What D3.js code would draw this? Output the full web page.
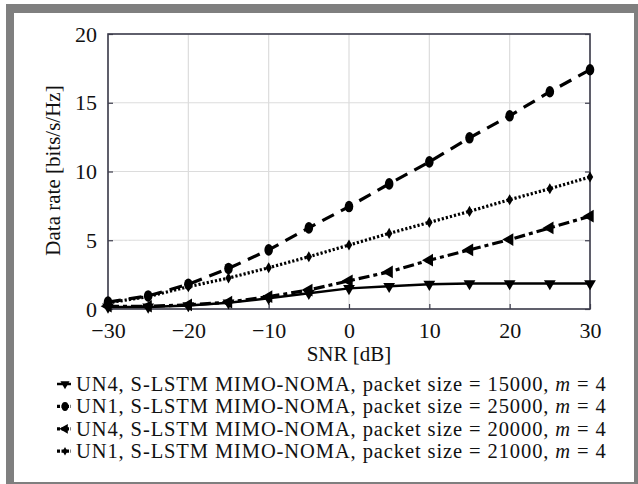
<!DOCTYPE html>
<html>
<head>
<meta charset="utf-8">
<script src="https://cdn.jsdelivr.net/npm/d3@7"></script>
<style>
  html, body { margin: 0; padding: 0; background: #fff; }
  svg { display: block; }
</style>
</head>
<body>
<svg id="chart" width="638" height="484"></svg>
<script>
// SNR sweep (dB) shared by every curve
const snr = [-30, -25, -20, -15, -10, -5, 0, 5, 10, 15, 20, 25, 30];

// Data rate (bits/s/Hz) per configuration
const un4_15000 = [0.15, 0.15, 0.25, 0.45, 0.78, 1.15, 1.5, 1.65, 1.8, 1.85, 1.85, 1.85, 1.85];
const un1_25000 = [0.5, 0.95, 1.8, 2.95, 4.3, 5.9, 7.45, 9.1, 10.7, 12.45, 14.05, 15.8, 17.4];
const un4_20000 = [0.2, 0.2, 0.3, 0.5, 0.9, 1.38, 2.05, 2.7, 3.55, 4.3, 5.05, 5.9, 6.75];
const un1_21000 = [0.45, 0.9, 1.62, 2.25, 3.0, 3.8, 4.65, 5.5, 6.3, 7.1, 7.95, 8.75, 9.6];

const seriesLabels = [
  "UN4, S-LSTM MIMO-NOMA, packet size = 15000,",
  "UN1, S-LSTM MIMO-NOMA, packet size = 25000,",
  "UN4, S-LSTM MIMO-NOMA, packet size = 20000,",
  "UN1, S-LSTM MIMO-NOMA, packet size = 21000,"
];

const xTicks = [-30, -20, -10, 0, 10, 20, 30];
const yTicks = [0, 5, 10, 15, 20];

const series = [
  { values: un4_15000, dash: null, width: 2.5, marker: "down" },
  { values: un1_25000, dash: "13,8", width: 3.2, marker: "circle" },
  { values: un4_20000, dash: "11,4,4,4", width: 3.2, marker: "left" },
  { values: un1_21000, dash: "2.2,2", width: 3.2, marker: "small" }
];

const FONT = '"Liberation Serif"';
const svg = d3.select("#chart");

// page frame
svg.append("rect").attr("x", 6).attr("y", 4).attr("width", 632).attr("height", 480).attr("fill", "#7f7f7f");
svg.append("rect").attr("x", 14).attr("y", 13).attr("width", 620).attr("height", 469).attr("fill", "#fff");

const m = { left: 108, right: 590, top: 34, bottom: 309 };
const x = d3.scaleLinear().domain([-30, 30]).range([m.left, m.right]);
const y = d3.scaleLinear().domain([0, 20]).range([m.bottom, m.top]);

// grid
const grid = svg.append("g").attr("stroke", "#dcdcdc").attr("stroke-width", 1.2);
xTicks.forEach(t => grid.append("line").attr("x1", x(t)).attr("x2", x(t)).attr("y1", m.top).attr("y2", m.bottom));
yTicks.forEach(t => grid.append("line").attr("x1", m.left).attr("x2", m.right).attr("y1", y(t)).attr("y2", y(t)));

// axes with inward ticks
const axisColor = "#3c3c4c";
const xAxis = svg.append("g").attr("transform", `translate(0,${m.bottom})`)
  .call(d3.axisBottom(x).tickValues(xTicks).tickSizeInner(-5).tickSizeOuter(0).tickPadding(13)
    .tickFormat(d => d < 0 ? "\u2212" + Math.abs(d) : d));
const yAxis = svg.append("g").attr("transform", `translate(${m.left},0)`)
  .call(d3.axisLeft(y).tickValues(yTicks).tickSizeInner(-5).tickSizeOuter(0).tickPadding(11));
const yAxisR = svg.append("g").attr("transform", `translate(${m.right},0)`)
  .call(d3.axisRight(y).tickValues(yTicks).tickSizeInner(-5).tickSizeOuter(0).tickFormat(""));
[xAxis, yAxis, yAxisR].forEach(a => {
  a.select(".domain").remove();
  a.selectAll("line").attr("stroke", axisColor).attr("stroke-width", 1.2);
  a.selectAll("text").attr("fill", "#111").style("font-family", FONT).style("font-size", "22px");
});
svg.append("rect").attr("x", m.left).attr("y", m.top)
  .attr("width", m.right - m.left).attr("height", m.bottom - m.top)
  .attr("fill", "none").attr("stroke", axisColor).attr("stroke-width", 1.6);

// axis titles
svg.append("text").attr("x", (m.left + m.right) / 2).attr("y", 361)
  .attr("text-anchor", "middle").style("font-family", FONT).style("font-size", "21px")
  .attr("fill", "#111").text("SNR [dB]");
svg.append("text").attr("transform", `translate(60,${(m.top + m.bottom) / 2 - 1}) rotate(-90)`)
  .attr("text-anchor", "middle").style("font-family", FONT).style("font-size", "21px")
  .attr("fill", "#111").text("Data rate [bits/s/Hz]");

// marker shapes
function drawMarker(g, kind, cx, cy, scale = 1) {
  if (kind === "circle") {
    g.append("path").attr("d", d3.symbol().type(d3.symbolCircle).size(80 * scale)())
      .attr("transform", `translate(${cx},${cy}) scale(0.85,1.15)`).attr("fill", "#000");
  } else if (kind === "down") {
    g.append("path").attr("d", d3.symbol().type(d3.symbolTriangle).size(60 * scale)())
      .attr("transform", `translate(${cx},${cy}) rotate(180)`).attr("fill", "#000");
  } else if (kind === "left") {
    g.append("path").attr("d", d3.symbol().type(d3.symbolTriangle).size(70 * scale)())
      .attr("transform", `translate(${cx},${cy}) rotate(-90)`).attr("fill", "#000");
  } else {
    g.append("path").attr("d", d3.symbol().type(d3.symbolDiamond).size(35 * scale)())
      .attr("transform", `translate(${cx},${cy})`).attr("fill", "#000");
  }
}

const line = d3.line().x((d, i) => x(snr[i])).y(d => y(d));
const plot = svg.append("g");
series.forEach(s => {
  plot.append("path").datum(s.values).attr("d", line)
    .attr("fill", "none").attr("stroke", "#000").attr("stroke-width", s.width)
    .attr("stroke-dasharray", s.dash);
  const mg = plot.append("g");
  s.values.forEach((v, i) => drawMarker(mg, s.marker, x(snr[i]), y(v)));
});

// legend
const legTop = 384, legStep = 22.4;
series.forEach((s, i) => {
  const ly = legTop + i * legStep;
  const g = svg.append("g");
  g.append("line").attr("x1", 57).attr("x2", 71).attr("y1", ly).attr("y2", ly)
    .attr("stroke", "#000").attr("stroke-width", s.width).attr("stroke-dasharray", s.dash ? "3,1.5" : null);
  drawMarker(g, s.marker, 65, ly, 0.6);
  const t = g.append("text").attr("x", 76).attr("y", ly + 7)
    .style("font-family", FONT).style("font-size", "20.5px").style("letter-spacing", "0.9px")
    .attr("fill", "#111");
  t.append("tspan").text(seriesLabels[i] + " ");
  t.append("tspan").attr("font-style", "italic").text("m");
  t.append("tspan").text(" = 4");
});
</script>
</body>
</html>
